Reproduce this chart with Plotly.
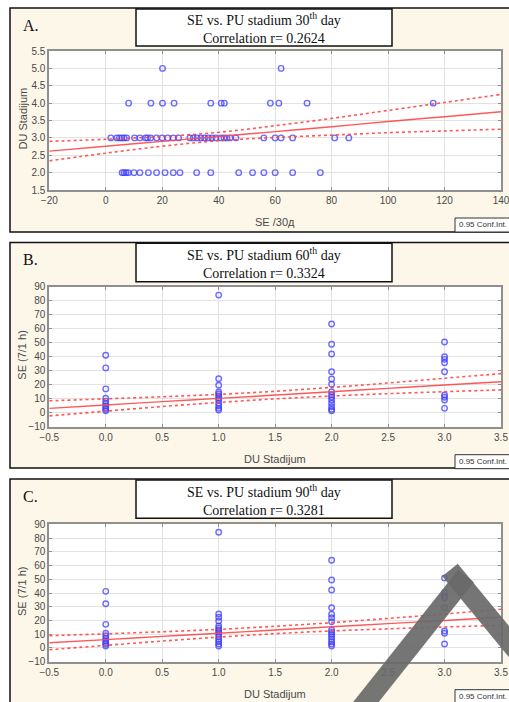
import plotly.graph_objects as go

W, H = 509, 702


def px(x):
    return x / W


def py(y):
    return 1 - y / H


# ---------------- Panel A data (x = SE /30d, y = DU stadium) ----------------
a_se_du2 = [5.8, 6.5, 7.2, 8.0, 10.0, 12.1, 15.1, 18.0, 21.0, 23.9, 26.3, 32.2,
            37.2, 47.1, 52.0, 56.0, 60.0, 66.2, 76.0]
a_se_du3 = [1.8, 3.9, 4.8, 5.7, 6.5, 7.4, 10.2, 12.1, 14.1, 14.8, 15.9, 18.0,
            20.0, 21.9, 23.9, 25.8, 29.8, 31.0, 32.4, 33.7, 35.0, 36.3, 37.6,
            39.0, 40.8, 41.9, 42.9, 44.0, 46.1, 56.0, 60.0, 62.1, 66.2, 81.1, 86.1]
a_se_du4 = [8.1, 16.0, 20.1, 24.2, 37.2, 40.9, 42.0, 58.3, 61.3, 71.3, 116.0]
a_se_du5 = [20.1, 62.1]
a_line_x = [-20, 0, 20, 40, 60, 80, 100, 120, 140]
a_fit = [2.62, 2.76, 2.90, 3.04, 3.18, 3.32, 3.47, 3.61, 3.75]
a_upper = [2.90, 2.96, 3.04, 3.16, 3.35, 3.56, 3.79, 4.02, 4.25]
a_lower = [2.34, 2.56, 2.76, 2.92, 3.01, 3.08, 3.15, 3.20, 3.25]

# ---------------- Panel B data (x = DU stadium, y = SE 7/1 h) ----------------
b_du0 = [41, 32, 17, 10.3, 8.3, 6.5, 4.8, 3.5, 2.4, 1.4]
b_du1 = [84, 24.3, 19.6, 14.8, 13.4, 11.9, 10.5, 9.1, 6.7, 4.8, 3.1, 1.9]
b_du2 = [63.4, 48.9, 41.9, 29.3, 24.1, 20.3, 15.0, 12.6, 11.0, 9.1, 6.7, 4.3, 2.4, 1.4]
b_du3 = [50.5, 40, 38.1, 35.7, 29.3, 12.6, 11.0, 9.1, 3.1]
bc_line_x = [-0.5, 0, 0.5, 1, 1.5, 2, 2.5, 3, 3.5]
b_fit = [3.1, 5.5, 7.9, 10.2, 12.6, 15.0, 17.4, 19.8, 22.1]
b_upper = [8.5, 9.9, 11.4, 13.1, 15.3, 18.1, 21.2, 24.6, 27.9]
b_lower = [-2.3, 1.1, 4.4, 7.3, 9.9, 11.9, 13.6, 15.0, 16.3]

# ---------------- Panel C data ----------------
c_du0 = [41.2, 32.2, 17.2, 10.7, 8.9, 7.0, 5.3, 3.8, 2.7, 1.4]
c_du1 = [84.2, 24.7, 22.3, 19.6, 16.0, 14.3, 12.9, 11.4, 9.9, 8.2, 6.3, 4.6, 2.9, 1.4]
c_du2 = [63.8, 49.5, 42.2, 29.3, 24.5, 22.0, 19.1, 13.1, 11.4, 9.9, 8.2, 6.3, 4.6, 2.9, 1.4]
c_du3 = [51.0, 40.2, 37.8, 36.4, 29.3, 12.3, 10.7, 2.9]
c_fit = [3.8, 6.1, 8.4, 10.7, 13.1, 15.4, 17.7, 20.0, 22.3]
c_upper = [8.9, 10.3, 11.8, 13.5, 15.8, 18.4, 21.5, 24.7, 28.2]
c_lower = [-1.3, 1.9, 5.0, 7.9, 10.4, 12.4, 13.9, 15.3, 16.4]

titles = ["SE vs. PU stadium 30<sup>th</sup> day<br>Correlation r= 0.2624",
          "SE vs. PU stadium 60<sup>th</sup> day<br>Correlation r= 0.3324",
          "SE vs. PU stadium 90<sup>th</sup> day<br>Correlation r= 0.3281"]
letters = ["A.", "B.", "C."]
x_titles = ["SE /30д", "DU Stadijum", "DU Stadijum"]
y_titles = ["DU Stadijum", "SE (7/1 h)", "SE (7/1 h)"]

MARK = "rgba(60,60,255,0.75)"
RED = "rgba(255,70,70,0.9)"
SANS = "Liberation Sans Narrow, Arial Narrow, Liberation Sans, Arial"
SERIF = "Liberation Serif, Times New Roman, serif"

fig = go.Figure()


def scatter(x, y, ax):
    fig.add_trace(go.Scatter(x=x, y=y, mode="markers", xaxis="x" + ax, yaxis="y" + ax,
                             marker=dict(symbol="circle-open", size=5.5, color=MARK,
                                         line=dict(width=1.4, color=MARK)),
                             showlegend=False, hoverinfo="skip"))


def line(x, y, ax, dash):
    fig.add_trace(go.Scatter(x=x, y=y, mode="lines", xaxis="x" + ax, yaxis="y" + ax,
                             line=dict(color=RED, width=1.4 if dash == "solid" else 1.6,
                                       dash=dash, shape="spline"),
                             showlegend=False, hoverinfo="skip"))


# Panel A
scatter(a_se_du2, [2.0] * len(a_se_du2), "")
scatter(a_se_du3, [3.0] * len(a_se_du3), "")
scatter(a_se_du4, [4.0] * len(a_se_du4), "")
scatter(a_se_du5, [5.0] * len(a_se_du5), "")
line(a_line_x, a_fit, "", "solid")
line(a_line_x, a_upper, "", "dot")
line(a_line_x, a_lower, "", "dot")

# Panel B
for du, vals in zip([0, 1, 2, 3], [b_du0, b_du1, b_du2, b_du3]):
    scatter([du] * len(vals), vals, "2")
line(bc_line_x, b_fit, "2", "solid")
line(bc_line_x, b_upper, "2", "dot")
line(bc_line_x, b_lower, "2", "dot")

# Panel C
for du, vals in zip([0, 1, 2, 3], [c_du0, c_du1, c_du2, c_du3]):
    scatter([du] * len(vals), vals, "3")
line(bc_line_x, c_fit, "3", "solid")
line(bc_line_x, c_upper, "3", "dot")
line(bc_line_x, c_lower, "3", "dot")

TICKFONT = dict(family=SANS, size=10, color="#4a4a4a")


def axis(rng, dtick, dom, anchor, fmt):
    return dict(range=rng, dtick=dtick, tick0=rng[0], domain=dom, anchor=anchor,
                automargin=False, tickformat=fmt, ticklabeloverflow="allow",
                showgrid=True, gridcolor="#e2e2e2", gridwidth=1, zeroline=False,
                showline=True, linecolor="#8f8f8f", linewidth=2, mirror="ticks",
                ticks="inside", ticklen=3, tickcolor="#8f8f8f",
                tickfont=TICKFONT, fixedrange=True)


xd = [px(49.3), px(501)]
panels = [  # plot top, plot bottom, outer top, outer bottom, title box top/bottom
    dict(pt=51, pb=190, ot=8, ob=232, tt=9, tb=46),
    dict(pt=286.7, pb=426.7, ot=242.5, ob=468, tt=243.3, tb=281.7),
    dict(pt=524.3, pb=661.7, ot=479, ob=720, tt=480, tb=518.3),
]

fig.update_layout(
    template="none",
    xaxis=axis([-20, 140], 20, xd, "y", "d"),
    yaxis=axis([1.5, 5.5], 0.5, [py(panels[0]["pb"]), py(panels[0]["pt"])], "x", ".1f"),
    xaxis2=axis([-0.5, 3.5], 0.5, xd, "y2", ".1f"),
    yaxis2=axis([-10, 90], 10, [py(panels[1]["pb"]), py(panels[1]["pt"])], "x2", "d"),
    xaxis3=axis([-0.5, 3.5], 0.5, xd, "y3", ".1f"),
    yaxis3=axis([-10, 90], 10, [py(panels[2]["pb"]), py(panels[2]["pt"])], "x3", "d"),
)

shapes = []
annotations = []
BEIGE = "#fdf7ea"
for i, p in enumerate(panels):
    # outer panel
    shapes.append(dict(type="rect", xref="paper", yref="paper", layer="below",
                       x0=px(10), x1=px(520), y0=py(p["ob"]), y1=py(p["ot"]),
                       fillcolor=BEIGE, line=dict(color="#111", width=1.5)))
    # plot area
    shapes.append(dict(type="rect", xref="paper", yref="paper", layer="below",
                       x0=xd[0], x1=xd[1], y0=py(p["pb"]), y1=py(p["pt"]),
                       fillcolor="white", line=dict(width=0)))
    # title box
    shapes.append(dict(type="rect", xref="paper", yref="paper", layer="below",
                       x0=px(136), x1=px(392), y0=py(p["tb"]), y1=py(p["tt"]),
                       fillcolor="white", line=dict(color="#111", width=1.5)))
    annotations.append(dict(xref="paper", yref="paper", x=px(264), y=py((p["tt"] + p["tb"]) / 2 + 0.5),
                            xanchor="center", yanchor="middle",
                            text=titles[i], showarrow=False, align="center",
                            font=dict(family=SERIF, size=14, color="#111")))
    annotations.append(dict(xref="paper", yref="paper", x=px(21), y=py(p["ot"] + 17),
                            xanchor="left", yanchor="middle", text=letters[i], showarrow=False,
                            font=dict(family=SERIF, size=16, color="#111")))
    # axis titles
    annotations.append(dict(xref="paper", yref="paper", x=px(275), y=py(p["pb"] + 32),
                            xanchor="center", yanchor="middle",
                            text=x_titles[i], showarrow=False,
                            font=dict(family=SANS, size=11, color="#4a4a4a")))
    annotations.append(dict(xref="paper", yref="paper", x=px(22), y=py((p["pt"] + p["pb"]) / 2 - 2),
                            xanchor="center", yanchor="middle",
                            text=y_titles[i], showarrow=False, textangle=-90,
                            font=dict(family=SANS, size=11, color="#4a4a4a")))
    # Conf. Int. box
    cb_top = p["pb"] + 28
    shapes.append(dict(type="rect", xref="paper", yref="paper", layer="above",
                       x0=px(455), x1=px(520), y0=py(cb_top + 14), y1=py(cb_top),
                       fillcolor="white", line=dict(color="#333", width=1)))
    annotations.append(dict(xref="paper", yref="paper", x=px(457), y=py(cb_top + 7),
                            xanchor="left", yanchor="middle", text="0.95 Conf.Int.", showarrow=False,
                            font=dict(family=SANS, size=8, color="#333")))

# watermark strokes over panel C
shapes.append(dict(type="line", xref="paper", yref="paper", layer="above",
                   x0=px(358), y0=py(712), x1=px(466), y1=py(576),
                   line=dict(color="rgba(105,105,105,0.92)", width=20)))
shapes.append(dict(type="line", xref="paper", yref="paper", layer="above",
                   x0=px(450), y0=py(570), x1=px(520), y1=py(655),
                   line=dict(color="rgba(105,105,105,0.92)", width=20)))

fig.update_layout(
    width=W, height=H, autosize=False,
    margin=dict(l=0, r=0, t=0, b=0, pad=0),
    paper_bgcolor="white", plot_bgcolor="rgba(0,0,0,0)",
    shapes=shapes, annotations=annotations, showlegend=False,
)

fig.write_html("out.html", config={"displayModeBar": False},
               post_script="document.body.style.margin='0';document.body.style.padding='0';"
                           "document.documentElement.style.overflow='hidden';")
